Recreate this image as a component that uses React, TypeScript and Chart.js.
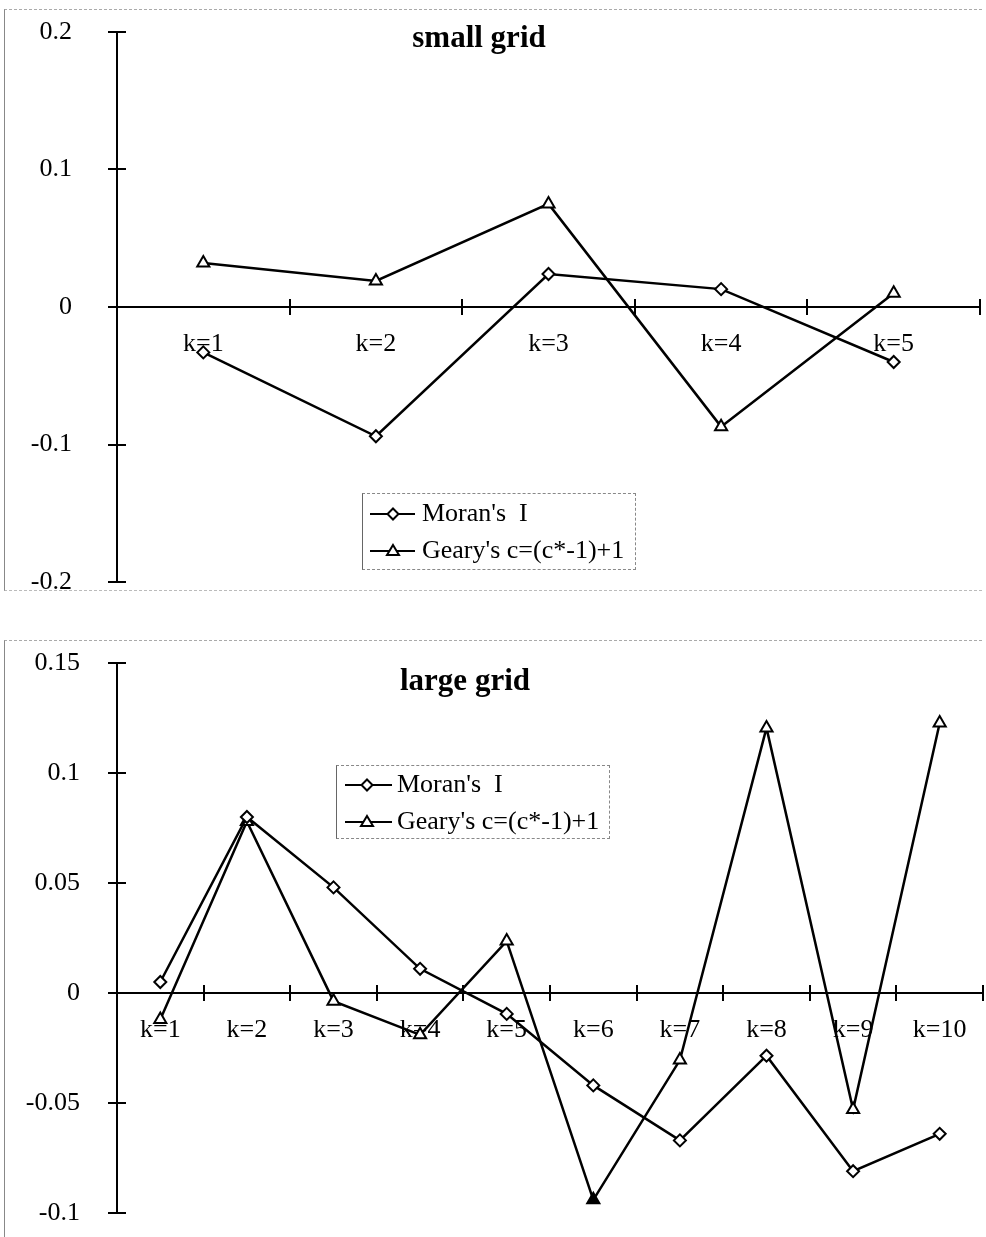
import React, { useEffect, useRef } from 'react';
import { Chart, registerables } from 'chart.js';

Chart.register(...registerables);

// ---------- data ----------
const smallCategories = ['k=1', 'k=2', 'k=3', 'k=4', 'k=5'];
const smallMoran = [-0.033, -0.094, 0.024, 0.013, -0.040];
const smallGeary = [0.032, 0.019, 0.075, -0.087, 0.010];
const smallYTicks = [-0.2, -0.1, 0, 0.1, 0.2];

const largeCategories = ['k=1', 'k=2', 'k=3', 'k=4', 'k=5', 'k=6', 'k=7', 'k=8', 'k=9', 'k=10'];
const largeMoran = [0.005, 0.080, 0.048, 0.011, -0.0095, -0.042, -0.067, -0.0285, -0.081, -0.064];
const largeGeary = [-0.012, 0.078, -0.0037, -0.019, 0.0236, -0.094, -0.0305, 0.1205, -0.053, 0.1227];
const largeYTicks = [-0.1, -0.05, 0, 0.05, 0.1, 0.15];

const seriesNames = ["Moran's  I", "Geary's c=(c*-1)+1"];
const chartTitles = ['small grid', 'large grid'];

const SERIF = "'Liberation Serif', 'Times New Roman', serif";
const TICK_SIZE = 26;

type PanelProps = {
  categories: string[];
  moran: number[];
  geary: number[];
  yTicks: number[];
  top: number;
  height: number;
  pad: { top: number; right: number; bottom: number };
  yLabelPad: number;
  filledGearyIndex?: number;
};

function ChartPanel(props: PanelProps) {
  const ref = useRef<HTMLCanvasElement | null>(null);
  useEffect(() => {
    const canvas = ref.current;
    if (!canvas) return;
    const { categories, moran, geary, yTicks, pad, yLabelPad, filledGearyIndex } = props;
    const crossTicks = {
      id: 'crossTicks',
      afterDraw(chart: any) {
        const { ctx } = chart;
        const xs = chart.scales.x;
        const ys = chart.scales.y;
        const y0 = ys.getPixelForValue(0);
        const left = chart.chartArea.left;
        ctx.save();
        ctx.strokeStyle = '#000';
        ctx.lineWidth = 2;
        const n = categories.length;
        const w = (xs.right - xs.left) / n;
        for (let i = 1; i <= n; i++) {
          const px = Math.round(xs.left + i * w);
          ctx.beginPath();
          ctx.moveTo(px, y0 - 8);
          ctx.lineTo(px, y0 + 8);
          ctx.stroke();
        }
        yTicks.forEach((v) => {
          const py = Math.round(ys.getPixelForValue(v));
          ctx.beginPath();
          ctx.moveTo(left - 9, py);
          ctx.lineTo(left + 9, py);
          ctx.stroke();
        });
        ctx.restore();
      },
    };
    const chart = new Chart(canvas, {
      type: 'line',
      data: {
        labels: categories,
        datasets: [
          {
            label: seriesNames[0],
            data: moran,
            borderColor: '#000',
            borderWidth: 2.5,
            pointStyle: 'rectRot',
            pointRadius: 6,
            pointBorderWidth: 2,
            pointBorderColor: '#000',
            pointBackgroundColor: '#fff',
            tension: 0,
          },
          {
            label: seriesNames[1],
            data: geary,
            borderColor: '#000',
            borderWidth: 2.5,
            pointStyle: 'triangle',
            pointRadius: 7,
            pointBorderWidth: 2,
            pointBorderColor: '#000',
            pointBackgroundColor: (c: any) =>
              filledGearyIndex !== undefined && c.dataIndex === filledGearyIndex ? '#000' : '#fff',
            tension: 0,
          },
        ],
      },
      options: {
        animation: false,
        responsive: false,
        maintainAspectRatio: false,
        layout: { autoPadding: false, padding: { left: 0, top: pad.top, right: pad.right, bottom: pad.bottom } },
        plugins: { legend: { display: false }, title: { display: false }, tooltip: { enabled: false } },
        scales: {
          x: {
            type: 'category',
            offset: true,
            position: { y: 0 } as any,
            grid: { display: true, drawOnChartArea: false, drawTicks: true, tickLength: 22, color: 'rgba(0,0,0,0)' },
            border: { display: true, color: '#000', width: 2 },
            ticks: {
              color: '#000',
              font: { family: SERIF, size: TICK_SIZE },
              padding: 0,
              maxRotation: 0,
              autoSkip: false,
            },
          },
          y: {
            type: 'linear',
            min: yTicks[0],
            max: yTicks[yTicks.length - 1],
            afterBuildTicks: (scale: any) => {
              scale.ticks = yTicks.map((v) => ({ value: v }));
            },
            afterFit: (scale: any) => {
              scale.width = 117;
            },
            grid: { display: true, drawOnChartArea: false, drawTicks: true, tickLength: yLabelPad, color: 'rgba(0,0,0,0)' },
            border: { display: true, color: '#000', width: 2 },
            ticks: {
              color: '#000',
              font: { family: SERIF, size: TICK_SIZE },
              padding: 0,
              callback: (v: any) => String(Math.round(Number(v) * 1000) / 1000),
            },
          },
        },
      },
      plugins: [crossTicks],
    });
    return () => chart.destroy();
  }, []);
  return (
    <canvas
      ref={ref}
      width={986}
      height={props.height}
      style={{ position: 'absolute', left: 0, top: props.top, width: 986, height: props.height }}
    />
  );
}

function TextAt(props: { x: number; baseline: number; size: number; bold?: boolean; center?: boolean; children: any }) {
  const { x, baseline, size, bold, center } = props;
  return (
    <div
      style={{
        position: 'absolute',
        left: x,
        top: baseline - 0.8375 * size,
        fontFamily: SERIF,
        fontSize: size,
        lineHeight: `${size}px`,
        fontWeight: bold ? 'bold' : 'normal',
        whiteSpace: 'pre',
        color: '#000',
        transform: center ? 'translateX(-50%)' : undefined,
      }}
    >
      {props.children}
    </div>
  );
}

function Symbol(props: { x1: number; x2: number; mx: number; y: number; kind: 'diamond' | 'triangle' }) {
  const { x1, x2, mx, y, kind } = props;
  const w = x2 - x1;
  const m = mx - x1;
  return (
    <svg
      width={w}
      height={20}
      style={{ position: 'absolute', left: x1, top: y - 10, overflow: 'visible' }}
    >
      <line x1={0} y1={10} x2={w} y2={10} stroke="#000" strokeWidth={2} />
      {kind === 'diamond' ? (
        <polygon points={`${m},4.5 ${m + 5.5},10 ${m},15.5 ${m - 5.5},10`} fill="#fff" stroke="#000" strokeWidth={2} />
      ) : (
        <polygon points={`${m},4 ${m + 6},14 ${m - 6},14`} fill="#fff" stroke="#000" strokeWidth={2} />
      )}
    </svg>
  );
}

function Legend(props: {
  left: number; top: number; width: number; height: number;
  symX1: number; symX2: number; markX: number; textX: number;
  base1: number; base2: number;
}) {
  const p = props;
  return (
    <>
      <div
        style={{
          position: 'absolute',
          left: p.left,
          top: p.top,
          width: p.width,
          height: p.height,
          borderTop: '1px dashed #888',
          borderBottom: '1px dashed #888',
          borderRight: '1px dashed #888',
          borderLeft: '1px solid #666',
          boxSizing: 'border-box',
        }}
      />
      <Symbol x1={p.symX1} x2={p.symX2} mx={p.markX} y={p.base1 - 8} kind="diamond" />
      <Symbol x1={p.symX1} x2={p.symX2} mx={p.markX} y={p.base2 - 8} kind="triangle" />
      <TextAt x={p.textX} baseline={p.base1} size={26}>{seriesNames[0]}</TextAt>
      <TextAt x={p.textX} baseline={p.base2} size={26}>{seriesNames[1]}</TextAt>
    </>
  );
}

export default function App() {
  return (
    <div style={{ position: 'absolute', left: 0, top: 0, width: 986, height: 1237, background: '#fff', overflow: 'hidden' }}>
      {/* panel frames */}
      <div style={{ position: 'absolute', left: 4, top: 9, width: 978, height: 582, borderTop: '1px dashed #aaa', borderBottom: '1px dashed #bbb', borderLeft: '1px solid #888', boxSizing: 'border-box' }} />
      <div style={{ position: 'absolute', left: 4, top: 640, width: 978, height: 620, borderTop: '1px dashed #aaa', borderLeft: '1px solid #888', boxSizing: 'border-box' }} />

      <ChartPanel
        categories={smallCategories}
        moran={smallMoran}
        geary={smallGeary}
        yTicks={smallYTicks}
        top={0}
        height={620}
        pad={{ top: 32, right: 6, bottom: 38 }}
        yLabelPad={45}
      />
      <ChartPanel
        categories={largeCategories}
        moran={largeMoran}
        geary={largeGeary}
        yTicks={largeYTicks}
        top={620}
        height={617}
        pad={{ top: 43, right: 3, bottom: 24 }}
        yLabelPad={37}
        filledGearyIndex={5}
      />

      <TextAt x={479} baseline={47} size={31} bold center>{chartTitles[0]}</TextAt>
      <TextAt x={465} baseline={690} size={31} bold center>{chartTitles[1]}</TextAt>

      <Legend left={362} top={493} width={274} height={77} symX1={370} symX2={415} markX={393} textX={422} base1={522} base2={559} />
      <Legend left={336} top={765} width={274} height={74} symX1={345} symX2={392} markX={367} textX={397} base1={793} base2={830} />
    </div>
  );
}
